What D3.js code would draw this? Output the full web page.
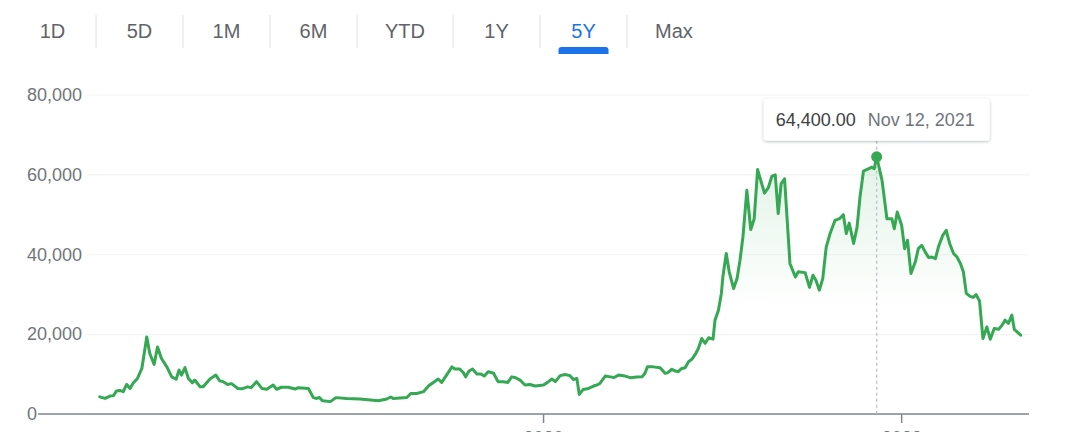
<!DOCTYPE html>
<html>
<head>
<meta charset="utf-8">
<script src="https://cdn.jsdelivr.net/npm/d3@7"></script>
<style>
	body { margin: 0; background: #fff; }
	svg { display: block; font-family: Arial, "Liberation Sans", sans-serif; }
</style>
</head>
<body>
<svg id="chart" width="1080" height="432"></svg>
<script>

const g_ranges = ["1D", "5D", "1M", "6M", "YTD", "1Y", "5Y", "Max"];
const g_selectedRange = "5Y";

const g_dates = [
	"2017-07-10","2017-07-21","2017-07-31","2017-08-07","2017-08-13","2017-08-20","2017-08-27","2017-09-03","2017-09-10","2017-09-16",
	"2017-09-25","2017-10-04","2017-10-14","2017-10-20","2017-10-29","2017-11-05","2017-11-13","2017-11-24","2017-12-04","2017-12-13",
	"2017-12-19","2017-12-24","2017-12-31","2018-01-07","2018-01-15","2018-01-20","2018-01-31","2018-02-06","2018-02-20","2018-03-04",
	"2018-03-12","2018-03-19","2018-03-28","2018-04-05","2018-04-18","2018-04-26","2018-05-08","2018-05-15","2018-05-26","2018-06-06",
	"2018-06-16","2018-06-29","2018-07-06","2018-07-16","2018-07-30","2018-08-13","2018-08-19","2018-09-09","2018-09-19","2018-09-26",
	"2018-10-01","2018-10-08","2018-10-24","2018-11-04","2018-11-26","2018-12-23","2019-01-30","2019-02-16","2019-02-24","2019-03-01",
	"2019-03-29","2019-04-06","2019-04-18","2019-05-02","2019-05-05","2019-05-12","2019-05-22","2019-06-01","2019-06-08","2019-06-18",
	"2019-06-29","2019-07-05","2019-07-15","2019-07-22","2019-07-27","2019-08-03","2019-08-10","2019-08-19","2019-08-27","2019-09-03",
	"2019-09-11","2019-09-22","2019-10-01","2019-10-12","2019-10-21","2019-10-29","2019-11-05","2019-11-15","2019-11-25","2019-12-05",
	"2019-12-16","2020-01-02","2020-01-12","2020-01-19","2020-01-26","2020-02-05","2020-02-15","2020-02-25","2020-03-03","2020-03-10",
	"2020-03-15","2020-03-23","2020-04-03","2020-04-13","2020-04-20","2020-04-26","2020-05-07","2020-05-17","2020-05-25","2020-06-03",
	"2020-06-13","2020-06-27","2020-07-10","2020-07-21","2020-07-27","2020-08-01","2020-08-13","2020-08-27","2020-09-06","2020-09-11",
	"2020-09-20","2020-09-27","2020-10-03","2020-10-10","2020-10-17","2020-10-24","2020-10-31","2020-11-08","2020-11-13","2020-11-20",
	"2020-11-27","2020-12-04","2020-12-13","2020-12-17","2020-12-24","2020-12-30","2021-01-02","2021-01-09","2021-01-15","2021-01-24",
	"2021-01-31","2021-02-06","2021-02-12","2021-02-20","2021-02-28","2021-03-07","2021-03-14","2021-03-28","2021-04-05","2021-04-12",
	"2021-04-19","2021-04-25","2021-05-01","2021-05-08","2021-05-19","2021-05-30","2021-06-05","2021-06-19","2021-06-28","2021-07-05",
	"2021-07-11","2021-07-18","2021-07-25","2021-08-01","2021-08-09","2021-08-19","2021-08-28","2021-09-05","2021-09-11","2021-09-17",
	"2021-09-26","2021-10-03","2021-10-09","2021-10-16","2021-10-26","2021-11-02","2021-11-07","2021-11-12","2021-11-23","2021-12-03",
	"2021-12-13","2021-12-18","2021-12-24","2022-01-02","2022-01-08","2022-01-14","2022-01-21","2022-01-30","2022-02-05","2022-02-12",
	"2022-02-19","2022-02-26","2022-03-05","2022-03-12","2022-03-18","2022-03-27","2022-04-03","2022-04-10","2022-04-18","2022-04-25",
	"2022-05-02","2022-05-08","2022-05-14","2022-05-21","2022-05-28","2022-06-03","2022-06-10","2022-06-17","2022-06-25","2022-07-02",
	"2022-07-10","2022-07-19","2022-07-26","2022-08-01","2022-08-08","2022-08-15","2022-08-20","2022-08-29","2022-09-02"
];

const g_prices = [
	4300, 3900, 4500, 4600, 5750, 5900, 5600, 7400, 6400, 7700,
	8900, 11400, 19300, 15200, 12400, 16800, 13900, 11800, 9300, 8700,
	11000, 9750, 11600, 8900, 7800, 8500, 6800, 6800, 8750, 9750,
	8300, 8100, 7400, 7600, 6400, 6300, 6800, 6600, 8100, 6400,
	6200, 7250, 6200, 6700, 6700, 6250, 6600, 6400, 4100, 3900,
	4150, 3300, 3100, 4100, 3900, 3750, 3300, 3750, 4250, 3900,
	4150, 5150, 5150, 5600, 6000, 7000, 7900, 8750, 7900, 9750,
	11800, 11250, 11250, 10400, 9300, 10750, 11250, 10000, 10000, 9500,
	10600, 10200, 8100, 8100, 7900, 9300, 9150, 8500, 7250, 7400,
	7000, 7250, 8100, 8750, 8100, 9600, 9900, 9600, 8650, 8900,
	4900, 6150, 6400, 7000, 7250, 7650, 9500, 9300, 9150, 9750,
	9600, 9100, 9250, 9300, 10200, 11800, 11800, 11600, 10200, 10300,
	11200, 10750, 10600, 11400, 11600, 13100, 13750, 15200, 16400, 18900,
	17700, 19100, 18750, 23500, 26000, 30200, 34300, 40200, 35600, 31400,
	33900, 38500, 44300, 56000, 46200, 48900, 61200, 55300, 56700, 59500,
	59900, 50200, 57700, 58900, 37700, 34300, 35600, 35400, 31700, 34750,
	33500, 31000, 33900, 41800, 45200, 48500, 48900, 49900, 45200, 47800,
	42700, 46800, 54300, 60800, 61400, 61800, 61400, 64400, 58500, 48900,
	48900, 46400, 50600, 47250, 41400, 43500, 35200, 38100, 41400, 42250,
	40600, 39200, 39300, 38900, 41800, 44750, 46000, 42700, 40200, 39300,
	37700, 35600, 30200, 29500, 29200, 29900, 28300, 18900, 21800, 18700,
	21400, 21200, 22250, 23500, 22700, 24750, 21200, 20200, 19750
];

const g_xDomain = ["2017-06-14", "2022-09-19"];
const g_xTicks = ["2020-01-01", "2022-01-01"];
const g_yTicks = [0, 20000, 40000, 60000, 80000];
const g_highlightDate = "2021-11-12";

const parseDate = d3.utcParse("%Y-%m-%d");

function drawTabs(svg){
	let tabs = svg.append("g").attr("class", "tabs");
	let x = 9;
	g_ranges.forEach(function(range, i){
		let selected = range == g_selectedRange;
		let label = tabs.append("text")
			.attr("y", 38)
			.attr("font-size", 20)
			.attr("text-anchor", "middle")
			.attr("fill", selected ? "#1a73e8" : "#5f6368")
			.text(range);
		let w = Math.max(87, label.node().getComputedTextLength() + 56);
		label.attr("x", x + w / 2);
		if (selected){
			tabs.append("path")
				.attr("d", `M${x + w/2 - 25},54 v-4 a3,3 0 0 1 3,-3 h44 a3,3 0 0 1 3,3 v4 z`)
				.attr("fill", "#1a73e8");
		}
		if (i < g_ranges.length - 1){
			tabs.append("line")
				.attr("x1", x + w).attr("x2", x + w)
				.attr("y1", 15).attr("y2", 48)
				.attr("stroke", "#e0e0e0")
				.attr("stroke-width", 1);
		}
		x += w;
	});
}

function drawChart(){
	let svg = d3.select("#chart");
	drawTabs(svg);

	let data = g_dates.map((d, i) => ({date: parseDate(d), price: g_prices[i]}));

	let x = d3.scaleUtc()
		.domain(g_xDomain.map(parseDate))
		.range([87, 1029]);
	let y = d3.scaleLinear()
		.domain([0, 80000])
		.range([414, 94.5]);

	let defs = svg.append("defs");
	let grad = defs.append("linearGradient")
		.attr("id", "areaFill")
		.attr("gradientUnits", "userSpaceOnUse")
		.attr("x1", 0).attr("x2", 0)
		.attr("y1", y(64400)).attr("y2", y(26000));
	grad.append("stop").attr("offset", 0).attr("stop-color", "#34a853").attr("stop-opacity", 0.14);
	grad.append("stop").attr("offset", 1).attr("stop-color", "#34a853").attr("stop-opacity", 0);

	let shadow = defs.append("filter").attr("id", "shadow")
		.attr("x", "-10%").attr("y", "-30%").attr("width", "120%").attr("height", "170%");
	shadow.append("feDropShadow")
		.attr("dx", 0).attr("dy", 1)
		.attr("stdDeviation", 1.6)
		.attr("flood-color", "#3c4043")
		.attr("flood-opacity", 0.35);

	// y grid + labels
	let yAxis = svg.append("g")
		.attr("transform", "translate(87,0)")
		.call(d3.axisLeft(y)
			.tickValues(g_yTicks)
			.tickSize(-(1029 - 87))
			.tickFormat(d3.format(",")));
	yAxis.select(".domain").remove();
	yAxis.selectAll(".tick line")
		.attr("stroke", "#f1f3f4")
		.attr("stroke-width", 1.2);
	yAxis.selectAll(".tick text")
		.attr("x", -60)
		.attr("text-anchor", "start")
		.attr("font-size", 18)
		.attr("font-family", "Arial, 'Liberation Sans', sans-serif")
		.attr("fill", "#70757a");

	// x axis (labels sit partly below the window, as in the source)
	let xAxis = svg.append("g")
		.attr("transform", "translate(0,414)")
		.call(d3.axisBottom(x)
			.tickValues(g_xTicks.map(parseDate))
			.tickSize(9)
			.tickPadding(8)
			.tickFormat(d3.utcFormat("%Y")));
	xAxis.select(".domain").remove();
	xAxis.selectAll(".tick line")
		.attr("stroke", "#80868b")
		.attr("stroke-width", 1.5);
	xAxis.selectAll(".tick text")
		.attr("font-size", 18)
		.attr("font-family", "Arial, 'Liberation Sans', sans-serif")
		.attr("fill", "#70757a");

	svg.append("line")
		.attr("x1", 38).attr("x2", 1029)
		.attr("y1", y(0)).attr("y2", y(0))
		.attr("stroke", "#80868b")
		.attr("stroke-width", 1.6);

	let area = d3.area()
		.x(d => x(d.date))
		.y0(y(0))
		.y1(d => y(d.price));
	svg.append("path")
		.datum(data)
		.attr("d", area)
		.attr("fill", "url(#areaFill)");

	let line = d3.line()
		.x(d => x(d.date))
		.y(d => y(d.price));
	svg.append("path")
		.datum(data)
		.attr("d", line)
		.attr("fill", "none")
		.attr("stroke", "#34a853")
		.attr("stroke-width", 3)
		.attr("stroke-linejoin", "round")
		.attr("stroke-linecap", "round");

	// hover point
	let hp = data.find(d => +d.date == +parseDate(g_highlightDate));
	let hx = x(hp.date), hy = y(hp.price);
	let boxBottom = hy - 16;

	svg.append("line")
		.attr("x1", hx).attr("x2", hx)
		.attr("y1", boxBottom).attr("y2", y(0))
		.attr("stroke", "#bdc1c6")
		.attr("stroke-width", 1.3)
		.attr("stroke-dasharray", "3,3");

	svg.append("circle")
		.attr("cx", hx).attr("cy", hy)
		.attr("r", 5.5)
		.attr("fill", "#34a853");

	let tip = svg.append("g");
	let boxW = 226, boxH = 42;
	tip.append("rect")
		.attr("x", hx - boxW / 2)
		.attr("y", boxBottom - boxH)
		.attr("width", boxW)
		.attr("height", boxH)
		.attr("rx", 3)
		.attr("fill", "#fff")
		.attr("filter", "url(#shadow)");
	let t = tip.append("text")
		.attr("x", hx - boxW / 2 + 12)
		.attr("y", boxBottom - 15)
		.attr("font-size", 18);
	t.append("tspan")
		.attr("fill", "#3c4043")
		.text(d3.format(",.2f")(hp.price));
	t.append("tspan")
		.attr("dx", 12)
		.attr("fill", "#70757a")
		.text(d3.utcFormat("%b %-d, %Y")(hp.date));
}

drawChart();
</script>
</body>
</html>
